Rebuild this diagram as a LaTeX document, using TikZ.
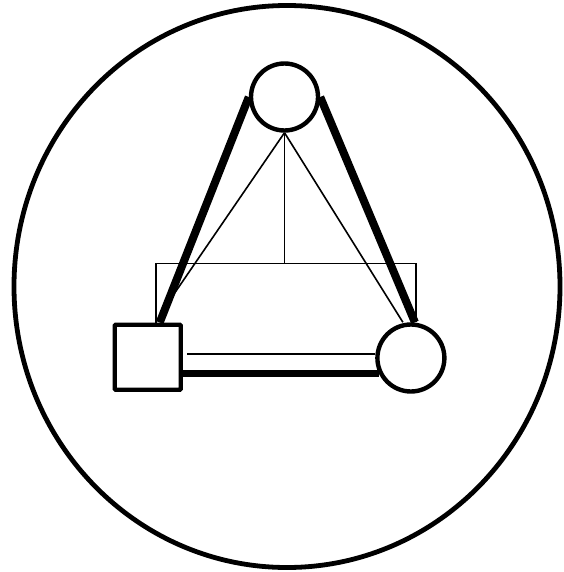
\documentclass[tikz,border=0pt]{standalone}
\usetikzlibrary{calc}
\begin{document}
\begin{tikzpicture}[x=1pt,y=-1pt,
  ring/.style={draw,line width=4.4pt,circle,inner sep=0pt,minimum size=67pt,fill=white},
  boxnode/.style={draw,line width=4.4pt,rectangle,rounded corners=1pt,inner sep=0pt,minimum width=66pt,minimum height=65pt,fill=white},
  heavy/.style={line width=8pt},
  medium/.style={line width=7pt},
  fine/.style={line width=1.6pt}]
\useasboundingbox (0,0) rectangle (563,572);
\draw[line width=4.8pt] (287,286.5) ellipse [x radius=273, y radius=281];
\node[ring] (top) at (284.5,97) {};
\node[boxnode] (sq) at (147.7,357.2) {};
\node[ring] (rc) at (410.9,358) {};
\coordinate (brL) at (156,263.3);
\coordinate (brR) at (416,263.3);
\coordinate (meet) at ($(top.west)!0.92!([xshift=12pt]sq.north)$);
% thin lines from the top circle
\draw[fine] (top.south) -- (meet);
\draw[fine] (top.south) -- ([xshift=-8pt]rc.north);
\draw[fine] (top.south) -- (top.south |- brL);
% bracket
\draw[fine] (brL |- sq.north) -- (brL) -- (brR) -- (brR |- rc.north);
% thick sides
\draw[heavy] (top.west) -- ([xshift=12pt]sq.north);
\draw[heavy] (top.east) -- ([xshift=4pt]rc.north);
% bottom lines
\draw[fine] (rc.174) -- ($(rc.174 -| sq.east)+(4pt,0)$);
\draw[medium] (rc.205) -- (rc.205 -| sq.east);
\end{tikzpicture}
\end{document}
